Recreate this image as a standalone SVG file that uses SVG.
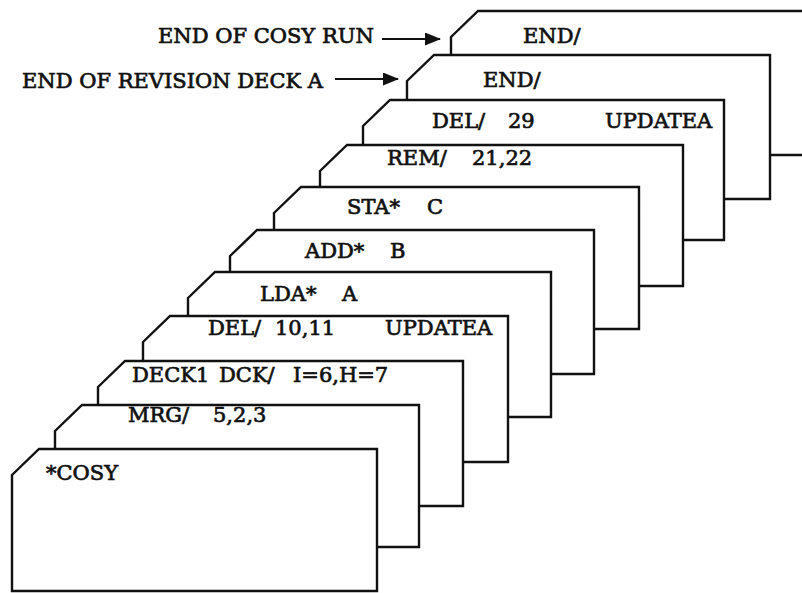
<svg xmlns="http://www.w3.org/2000/svg" width="802" height="593" viewBox="0 0 802 593">
<style>
.card{fill:#fff;stroke:#111;stroke-width:2.4;stroke-linejoin:miter}
.t{font-family:"DejaVu Serif","Liberation Serif",serif;font-size:21px;fill:#111;stroke:#111;stroke-width:0.7}
.conn{stroke:#111;stroke-width:2.2;fill:none}
</style>
<defs>
<marker id="ah" markerUnits="userSpaceOnUse" markerWidth="16" markerHeight="13" refX="15" refY="6.5" orient="auto">
<path d="M0,0 L16,6.5 L0,13 Z" fill="#111"/>
</marker>
</defs>
<rect width="802" height="593" fill="#fff"/>
<g id="card10"><path class="card" d="M451,37 L478,11 L814,11 L814,155 L451,155 Z"/><text class="t" x="523" y="43">END/</text></g>
<g id="card9"><path class="card" d="M407,81 L434,55 L770,55 L770,199 L407,199 Z"/><text class="t" x="483" y="87">END/</text></g>
<g id="card8"><path class="card" d="M363,126 L390,100 L724,100 L724,240 L363,240 Z"/><text class="t" y="128"><tspan x="432">DEL/</tspan><tspan x="508">29</tspan><tspan x="605">UPDATEA</tspan></text></g>
<g id="card7"><path class="card" d="M320,171 L347,145 L683,145 L683,286 L320,286 Z"/><text class="t" y="165"><tspan x="387">REM/</tspan><tspan x="472">21,22</tspan></text></g>
<g id="card6"><path class="card" d="M274,213 L301,187 L639,187 L639,329 L274,329 Z"/><text class="t" y="214"><tspan x="347">STA*</tspan><tspan x="427">C</tspan></text></g>
<g id="card5"><path class="card" d="M230,256 L257,230 L594,230 L594,374 L230,374 Z"/><text class="t" y="258"><tspan x="305">ADD*</tspan><tspan x="390">B</tspan></text></g>
<g id="card4"><path class="card" d="M188,298 L215,272 L551,272 L551,417 L188,417 Z"/><text class="t" y="301"><tspan x="260">LDA*</tspan><tspan x="342">A</tspan></text></g>
<g id="card3"><path class="card" d="M143,342 L170,316 L508,316 L508,462 L143,462 Z"/><text class="t" y="335"><tspan x="208">DEL/</tspan><tspan x="275">10,11</tspan><tspan x="385">UPDATEA</tspan></text></g>
<g id="card2"><path class="card" d="M98,387 L125,361 L463,361 L463,506 L98,506 Z"/><text class="t" y="382"><tspan x="132">DECK1</tspan><tspan x="219">DCK/</tspan><tspan x="293">I=6,H=7</tspan></text></g>
<g id="card1"><path class="card" d="M55,431 L82,405 L419,405 L419,547 L55,547 Z"/><text class="t" y="422"><tspan x="128">MRG/</tspan><tspan x="213">5,2,3</tspan></text></g>
<g id="card0"><path class="card" d="M12,475 L39,449 L377,449 L377,591 L12,591 Z"/><text class="t" x="46" y="480">*COSY</text></g>
<g id="label-cosy"><text class="t" x="158" y="43">END OF COSY RUN</text></g>
<g id="label-deck"><text class="t" x="22" y="88">END OF REVISION DECK A</text></g>
<g id="connectors">
<line class="conn" x1="382" y1="39" x2="440" y2="39" marker-end="url(#ah)"/>
<line class="conn" x1="335" y1="79" x2="398" y2="79" marker-end="url(#ah)"/>
</g>
</svg>
